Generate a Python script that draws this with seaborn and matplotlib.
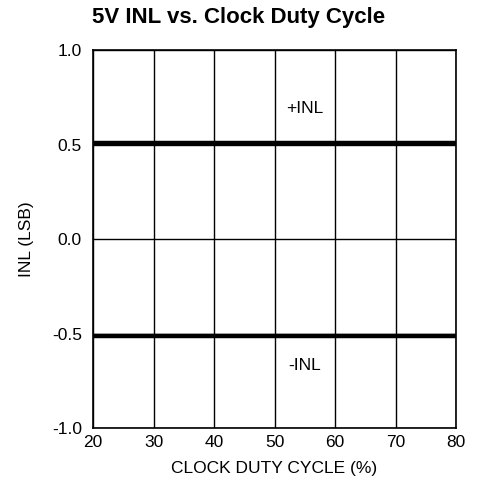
import matplotlib
matplotlib.use("Agg")
import matplotlib.pyplot as plt
import pandas as pd
import seaborn as sns

duty_cycle = [20, 30, 40, 50, 60, 70, 80]
inl_pos = [0.51, 0.51, 0.51, 0.51, 0.51, 0.51, 0.51]
inl_neg = [-0.515, -0.515, -0.515, -0.515, -0.515, -0.515, -0.515]

df = pd.DataFrame({'duty': duty_cycle * 2,
                   'inl': inl_pos + inl_neg,
                   'series': ['+INL'] * len(duty_cycle) + ['-INL'] * len(duty_cycle)})

sns.set_style("white")
plt.rcParams['font.family'] = ['Liberation Sans', 'DejaVu Sans']
plt.rcParams['text.color'] = 'black'
plt.rcParams['axes.labelcolor'] = 'black'

fig = plt.figure(figsize=(4.78, 4.98), dpi=100)
ax = fig.add_axes([93 / 478, 1 - 428 / 498, (456 - 93) / 478, (428 - 50) / 498])

sns.lineplot(data=df, x='duty', y='inl', units='series', estimator=None,
             color='black', linewidth=3.2, ax=ax, legend=False)

ax.set_xlim(20, 80)
ax.set_ylim(-1.0, 1.0)
ax.set_xticks([20, 30, 40, 50, 60, 70, 80])
ax.set_yticks([-1.0, -0.5, 0.0, 0.5, 1.0])
ax.set_yticklabels(['-1.0', '-0.5', '0.0', '0.5', '1.0'])
ax.grid(True, color='black', linewidth=1)
ax.set_axisbelow(True)
for s in ax.spines.values():
    s.set_color('black')
    s.set_linewidth(1.2)
ax.tick_params(axis='both', labelsize=12.5, length=0, colors='black')
ax.tick_params(axis='x', pad=5)
ax.tick_params(axis='y', pad=8)

ax.set_xlabel('CLOCK DUTY CYCLE (%)', fontsize=12.5, labelpad=8, color='black')
ax.set_ylabel('INL (LSB)', fontsize=12.5, labelpad=13, color='black')
fig.text(239 / 478, 1 - 18 / 498, '5V INL vs. Clock Duty Cycle', fontsize=16,
         fontweight='bold', ha='center', va='center', color='black')

ax.text(55, 0.69, '+INL', ha='center', va='center', fontsize=12.5, color='black')
ax.text(55, -0.67, '-INL', ha='center', va='center', fontsize=12.5, color='black')

fig.savefig('out.png', dpi=100)
